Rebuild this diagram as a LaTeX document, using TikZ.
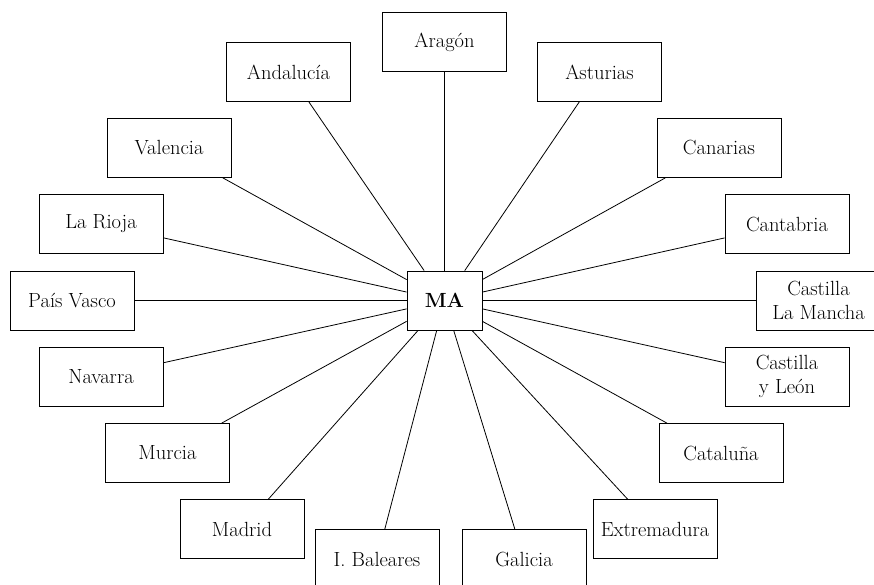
\documentclass[tikz,border=0pt]{standalone}
\usepackage{fontspec}
\usepackage{tikz}

\begin{document}
\begin{tikzpicture}[x=1pt,y=-1pt,
        region/.style={draw,line width=0.8pt,minimum width=124pt,minimum height=59pt,
            align=center,inner sep=2pt,font=\fontsize{20.5}{24}\selectfont},
        hub/.style={region,minimum width=75pt,font=\fontsize{20.5}{24}\selectfont\bfseries},
        link/.style={line width=0.8pt}]
        \clip (0,0) rectangle (874,585);
        \node[hub] (MA) at (444.5,300.5) {MA};
        % outer ring, clockwise from the top
        \node[region] (aragon) at (444.5,42) {Aragón};
        \node[region] (asturias) at (599.5,72) {Asturias};
        \node[region] (canarias) at (719,148) {Canarias};
        \node[region] (cantabria) at (787,224) {Cantabria};
        \node[region] (mancha) at (818.5,300.5) {Castilla\\La Mancha};
        \node[region] (leon) at (787,376.5) {Castilla\\y León};
        \node[region] (cataluna) at (721,453) {Cataluña};
        \node[region] (extremadura) at (655,529) {Extremadura};
        \node[region] (galicia) at (524,559) {Galicia};
        \node[region] (baleares) at (377,559) {I. Baleares};
        \node[region] (madrid) at (242,529) {Madrid};
        \node[region] (murcia) at (167.5,453) {Murcia};
        \node[region] (navarra) at (101,376.5) {Navarra};
        \node[region] (vasco) at (72,300.5) {País Vasco};
        \node[region] (rioja) at (101,224) {La Rioja};
        \node[region] (valencia) at (169,148) {Valencia};
        \node[region] (andalucia) at (288.5,72) {Andalucía};
        \foreach \r in {aragon,asturias,canarias,cantabria,mancha,leon,cataluna,
            extremadura,galicia,baleares,madrid,murcia,navarra,vasco,rioja,valencia,andalucia}
            \draw[link] (MA) -- (\r);
    \end{tikzpicture}
\end{document}
